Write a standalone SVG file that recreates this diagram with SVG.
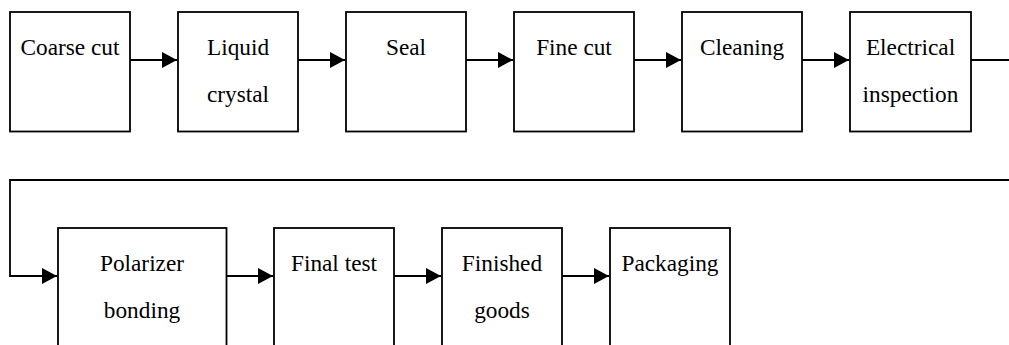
<svg xmlns="http://www.w3.org/2000/svg" width="1009" height="345" viewBox="0 0 1009 345">
  <style>
    .box { fill: #ffffff; stroke: #000000; stroke-width: 1.8; }
    .wire { fill: none; stroke: #000000; stroke-width: 1.8; }
  </style>
  <defs>
    <marker id="arrow" markerUnits="userSpaceOnUse" markerWidth="15" markerHeight="16" refX="15" refY="8" orient="auto">
      <path d="M0,0 L15,8 L0,16 Z" fill="#000000"/>
    </marker>
  </defs>
  <rect width="1009" height="345" fill="#ffffff"/>

  <g font-family="'Liberation Serif', 'Times New Roman', 'DejaVu Serif', serif" font-size="23.3" fill="#000000" text-anchor="middle">
    <!-- process steps, first row -->
    <g id="coarse-cut">
      <rect class="box" x="10" y="12" width="120" height="119.5"/>
      <text x="70" y="55">Coarse cut</text>
    </g>
    <g id="liquid-crystal">
      <rect class="box" x="178" y="12" width="120" height="119.5"/>
      <text x="238" y="55">Liquid</text>
      <text x="238" y="102">crystal</text>
    </g>
    <g id="seal">
      <rect class="box" x="346" y="12" width="120" height="119.5"/>
      <text x="406" y="55">Seal</text>
    </g>
    <g id="fine-cut">
      <rect class="box" x="514" y="12" width="120" height="119.5"/>
      <text x="574" y="55">Fine cut</text>
    </g>
    <g id="cleaning">
      <rect class="box" x="682" y="12" width="120" height="119.5"/>
      <text x="742" y="55">Cleaning</text>
    </g>
    <g id="electrical-inspection">
      <rect class="box" x="850" y="12" width="121" height="119.5"/>
      <text x="910.5" y="55">Electrical</text>
      <text x="910.5" y="102">inspection</text>
    </g>

    <!-- process steps, second row -->
    <g id="polarizer-bonding">
      <rect class="box" x="58" y="228" width="168.5" height="130"/>
      <text x="142" y="271">Polarizer</text>
      <text x="142" y="318">bonding</text>
    </g>
    <g id="final-test">
      <rect class="box" x="274" y="228" width="120" height="130"/>
      <text x="334" y="271">Final test</text>
    </g>
    <g id="finished-goods">
      <rect class="box" x="442" y="228" width="120" height="130"/>
      <text x="502" y="271">Finished</text>
      <text x="502" y="318">goods</text>
    </g>
    <g id="packaging">
      <rect class="box" x="610" y="228" width="120" height="130"/>
      <text x="670" y="271">Packaging</text>
    </g>
  </g>

  <!-- connectors -->
  <g id="connectors">
    <line class="wire" x1="130" y1="60" x2="177" y2="60" marker-end="url(#arrow)"/>
    <line class="wire" x1="298" y1="60" x2="345" y2="60" marker-end="url(#arrow)"/>
    <line class="wire" x1="466" y1="60" x2="513" y2="60" marker-end="url(#arrow)"/>
    <line class="wire" x1="634" y1="60" x2="681" y2="60" marker-end="url(#arrow)"/>
    <line class="wire" x1="802" y1="60" x2="849" y2="60" marker-end="url(#arrow)"/>
    <line class="wire" x1="971" y1="60" x2="1010" y2="60"/>
    <polyline class="wire" points="1010,180 10,180 10,276 57,276" marker-end="url(#arrow)"/>
    <line class="wire" x1="226.5" y1="276" x2="273" y2="276" marker-end="url(#arrow)"/>
    <line class="wire" x1="394" y1="276" x2="441" y2="276" marker-end="url(#arrow)"/>
    <line class="wire" x1="562" y1="276" x2="609" y2="276" marker-end="url(#arrow)"/>
  </g>
</svg>
